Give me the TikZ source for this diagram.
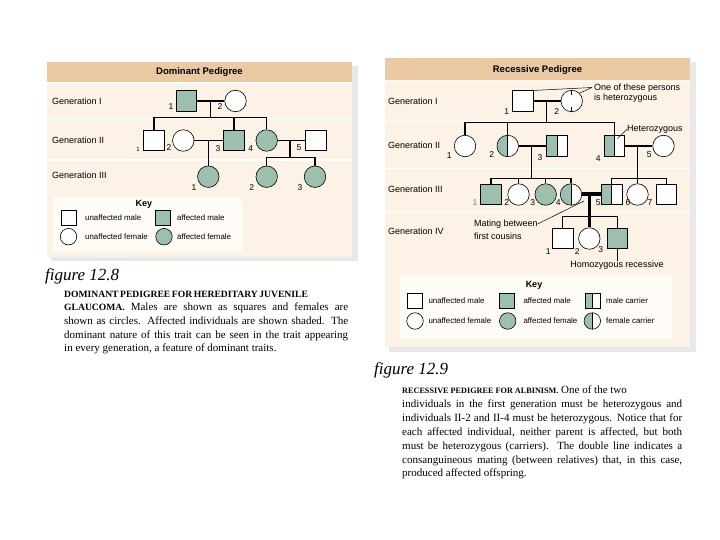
\documentclass[tikz,border=0pt]{standalone}
\usepackage{fontspec}
\setmainfont{Liberation Serif}
\setsansfont{Liberation Sans}
\definecolor{aff}{HTML}{9DBFB0}
\definecolor{panelbg}{HTML}{FCF2E5}
\definecolor{hdr}{HTML}{EBC9A2}
\definecolor{keybg}{HTML}{FFFBF6}
\definecolor{shadowc}{HTML}{E8E8E8}
\newcommand{\capline}[2]{\makebox[#1pt][s]{#2}}
\newcommand{\capsA}[1]{{\fontsize{9.6}{12}\selectfont\bfseries #1}}
\newcommand{\capsB}[1]{{\fontsize{8.2}{12}\selectfont\bfseries #1}}
\tikzset{
  person/.style={draw=black,line width=0.6pt,inner sep=0pt,fill=white},
  male/.style={person,rectangle,minimum size=20.5pt},
  female/.style={person,circle,minimum size=21.5pt},
  affd/.style={fill=aff},
  carrier/.style={path picture={\fill[aff] (path picture bounding box.south west) rectangle (path picture bounding box.north);
      \draw[line width=0.6pt] (path picture bounding box.north) -- (path picture bounding box.south);}},
  kmale/.style={person,rectangle,minimum size=15pt},
  kfemale/.style={person,circle,minimum size=16.5pt},
  lnk/.style={line width=1.3pt},
  cousinline/.style={line width=4pt},
  cousindesc/.style={line width=3pt},
  ptr/.style={line width=0.5pt},
  num/.style={font=\sffamily\fontsize{8.5}{9}\selectfont,inner sep=0pt},
  gen/.style={font=\sffamily\fontsize{9}{10}\selectfont,anchor=west,inner sep=0pt},
  ann/.style={font=\sffamily\fontsize{9}{10}\selectfont,anchor=west,inner sep=0pt},
  keytxt/.style={font=\sffamily\fontsize{7.9}{9}\selectfont,anchor=west,inner sep=0pt},
  hdrtxt/.style={font=\sffamily\bfseries\fontsize{9.5}{11}\selectfont,inner sep=0pt},
  keyttl/.style={font=\sffamily\bfseries\fontsize{9}{10}\selectfont,inner sep=0pt},
  capbody/.style={font=\fontsize{11}{12}\selectfont,anchor=base west,inner sep=0pt},
  figttl/.style={font=\itshape\fontsize{17}{20}\selectfont,anchor=base west,inner sep=0pt},
  sepline/.style={draw=white,line width=1.4pt},
}
\begin{document}
\begin{tikzpicture}[x=1pt,y=-1pt]
\useasboundingbox (0,0) rectangle (720,540);
\fill[white] (0,0) rectangle (720,540);

% ================= LEFT PANEL =================
\fill[shadowc] (51,66) rectangle (358,261);
\fill[panelbg] (47,62) rectangle (352,257);
\fill[hdr] (47,62) rectangle (352,82);
\draw[sepline] (47,83) -- (352,83);
\draw[sepline] (47,118.3) -- (352,118.3);
\draw[sepline] (47,160) -- (352,160);
\node[hdrtxt] (Lhdr) at (199.5,72) {Dominant Pedigree};

\node[gen] (LgI) at (52,101) {Generation I};
\node[gen] (LgII) at (52,140.5) {Generation II};
\node[gen] (LgIII) at (52,175.5) {Generation III};

% Gen I
\node[male,affd] (L11) at (186.5,101) {};
\node[female] (L12) at (235.5,101) {};
\node[num] (L11n) at (171,107) {1};
\node[num] (L12n) at (220,107) {2};
\draw[lnk] (L11.east) -- (L12.west);
\coordinate (Lc1) at (210.7,101);
\coordinate (Ls1) at (210.7,117.3);
\draw[lnk] (Lc1) -- (Ls1);

% Gen II
\node[male] (L21) at (154,140.5) {};
\node[female] (L22) at (183.3,140.5) {};
\node[male,affd] (L23) at (234,140.5) {};
\node[female,affd] (L24) at (266.7,140.5) {};
\node[male] (L25) at (316,140.5) {};
\node[num,font=\sffamily\fontsize{6}{7}\selectfont] (L21n) at (138,149) {1};
\node[num] (L22n) at (169,148) {2};
\node[num] (L23n) at (218,149) {3};
\node[num] (L24n) at (250.7,149) {4};
\node[num] (L25n) at (299,147.5) {5};
\draw[lnk] (L21.north) -- (L21.north |- Ls1) -- (L24.north |- Ls1) -- (L24.north);
\draw[lnk] (L23.north |- Ls1) -- (L23.north);
\draw[lnk] (L22.east) -- (L23.west);
\draw[lnk] (L24.east) -- (L25.west);

% Gen III
\node[female,affd] (L31) at (208.3,176.7) {};
\node[female,affd] (L32) at (266.7,176.7) {};
\node[female,affd] (L33) at (315,176.7) {};
\node[num] (L31n) at (194,187.7) {1};
\node[num] (L32n) at (251.7,187.7) {2};
\node[num] (L33n) at (300,187.7) {3};
\draw[lnk] (L31.north |- L22.east) -- (L31.north);
\coordinate (Lc3) at (290,140.5);
\coordinate (Ls3) at (290,157.7);
\draw[lnk] (Lc3) -- (Ls3);
\draw[lnk] (L32.north) -- (L32.north |- Ls3) -- (L33.north |- Ls3) -- (L33.north);

% Key (left)
\fill[keybg] (53,197) rectangle (242,252);
\node[keyttl] (LkT) at (144,204) {Key};
\node[kmale] (Lk1) at (69,218) {};
\node[keytxt] (Lk1t) at (85,218) {unaffected male};
\node[kmale,affd] (Lk2) at (162.5,218) {};
\node[keytxt] (Lk2t) at (177,218) {affected male};
\node[kfemale] (Lk3) at (68.5,236.7) {};
\node[keytxt] (Lk3t) at (85,236.7) {unaffected female};
\node[kfemale,affd] (Lk4) at (164,236.7) {};
\node[keytxt] (Lk4t) at (177,236.7) {affected female};

% Caption (left)
\node[figttl] (Lfig) at (45,280) {figure 12.8};
\node[capbody] (Lb1) at (64,297) {\capline{243}{\capsA{DOMINANT PEDIGREE FOR HEREDITARY JUVENILE}}};
\node[capbody] (Lb2) at (64,310.7) {\capline{284}{\capsA{GLAUCOMA.} Males are shown as squares and females are}};
\node[capbody] (Lb3) at (64,324.4) {\capline{284}{shown as circles. Affected individuals are shown shaded. The}};
\node[capbody] (Lb4) at (64,338.1) {\capline{284}{dominant nature of this trait can be seen in the trait appearing}};
\node[capbody] (Lb5) at (64,351.8) {in every generation, a feature of dominant traits.};

% ================= RIGHT PANEL =================
\fill[shadowc] (389,62) rectangle (696,352);
\fill[panelbg] (385,58) rectangle (690,347);
\fill[hdr] (385,58) rectangle (690,80);
\draw[sepline] (385,81.5) -- (690,81.5);
\draw[sepline] (385,121.7) -- (690,121.7);
\draw[sepline] (385,168.3) -- (690,168.3);
\draw[sepline] (385,211.7) -- (690,211.7);
\node[hdrtxt] (Rhdr) at (537.5,70) {Recessive Pedigree};

\node[gen] (RgI) at (388,101.7) {Generation I};
\node[gen] (RgII) at (388,145.7) {Generation II};
\node[gen] (RgIII) at (388,189) {Generation III};
\node[gen] (RgIV) at (388,231.7) {Generation IV};

% Gen I
\node[male] (R11) at (523,101) {};
\node[female] (R12) at (571.7,101) {};
\draw[line width=0.6pt] (R12.north) -- ++(0,5.5);
\draw[line width=0.6pt] (R12.south) -- ++(0,-5.5);
\node[num] (R11n) at (506.7,111.5) {1};
\node[num] (R12n) at (556.7,111.5) {2};
\draw[lnk] (R11.east) -- (R12.west);
\coordinate (Rc1) at (546.7,101);
\coordinate (Rs1) at (546.7,122.7);
\draw[lnk] (Rc1) -- (Rs1);
\node[ann] (Ra1) at (594,88.3) {One of these persons};
\node[ann] (Ra2) at (594,97.7) {is heterozygous};
\coordinate (Rap) at (592,87.5);
\draw[ptr] (Rap) -- (R11.north east);
\draw[ptr] (Rap) -- (R12.north east);

% Gen II
\node[female] (R21) at (465,146) {};
\node[female,carrier] (R22) at (507.7,146) {};
\node[male,carrier] (R23) at (557,146) {};
\node[male,carrier] (R24) at (614.5,146) {};
\node[female] (R25) at (663.5,146) {};
\node[num] (R21n) at (449.3,155.7) {1};
\node[num] (R22n) at (491.7,155) {2};
\node[num] (R23n) at (540,157.5) {3};
\node[num] (R24n) at (598.3,158.5) {4};
\node[num] (R25n) at (649.3,155) {5};
\draw[lnk] (R21.north) -- (R21.north |- Rs1) -- (R24.north |- Rs1) -- (R24.north);
\draw[lnk] (R22.north |- Rs1) -- (R22.north);
\draw[lnk] (R22.east) -- (R23.west);
\draw[lnk] (R24.east) -- (R25.west);
\node[ann] (Rhet) at (627,129.3) {Heterozygous};
\coordinate (Rhp) at (617.5,138.5);
\draw[ptr] (Rhet.west) -- (Rhp);

% Gen III
\node[male,affd] (R31) at (491,194.5) {};
\node[female] (R32) at (518.5,194.5) {};
\node[female,affd] (R33) at (545.7,194.5) {};
\node[female,carrier] (R34) at (571,194.5) {};
\node[male,carrier] (R35) at (611.7,194.5) {};
\node[female] (R36) at (637.5,194.5) {};
\node[male] (R37) at (666.3,194.5) {};
\node[num,text=gray] (R31n) at (475,203) {1};
\node[num] (R32n) at (506.7,202.5) {2};
\node[num] (R33n) at (532.7,202.5) {3};
\node[num] (R34n) at (558.3,202.5) {4};
\node[num] (R35n) at (598.3,203) {5};
\node[num] (R36n) at (628,202.5) {6};
\node[num] (R37n) at (650,202.5) {7};
\coordinate (Rc2) at (531.7,146);
\coordinate (Rs2) at (531.7,178.3);
\draw[lnk] (Rc2) -- (Rs2);
\draw[lnk] (R31.north) -- (R31.north |- Rs2) -- (R34.north |- Rs2) -- (R34.north);
\draw[lnk] (R32.north |- Rs2) -- (R32.north);
\draw[lnk] (R33.north |- Rs2) -- (R33.north);
\coordinate (Rc3) at (637.5,146);
\coordinate (Rs3) at (637.5,178.3);
\draw[lnk] (Rc3) -- (R36.north);
\draw[lnk] (R35.north) -- (R35.north |- Rs3) -- (R37.north |- Rs3) -- (R37.north);
\draw[cousinline] (R34.east) -- (R35.west);

% Gen IV
\node[male] (R41) at (562.7,238.5) {};
\node[female] (R42) at (589.3,238.5) {};
\node[male,affd] (R43) at (617.5,238.5) {};
\node[num] (R41n) at (548.3,251.5) {1};
\node[num] (R42n) at (577.3,251.5) {2};
\node[num] (R43n) at (600.7,250) {3};
\coordinate (Rc5) at (589.3,194.5);
\coordinate (Rs5) at (589.3,216.7);
\draw[cousindesc] (Rc5) -- (R42.north);
\draw[lnk] (R41.north) -- (R41.north |- Rs5) -- (R43.north |- Rs5) -- (R43.north);
\node[ann] (Rm1) at (474,223.8) {Mating between};
\node[ann] (Rm2) at (474,236) {first cousins};
\coordinate (Rmp) at (584,201);
\draw[ptr] (Rm1.east) -- (Rmp);
\node[ann,anchor=center] (Rhr) at (617,265) {Homozygous recessive};
\draw[ptr] (R43.south) -- (R43.south |- Rhr.north);

% Key (right)
\fill[keybg] (400,275) rectangle (672,339);
\node[keyttl] (RkT) at (534,285.7) {Key};
\node[kmale] (Rk1) at (415,301) {};
\node[keytxt] (Rk1t) at (428.3,301) {unaffected male};
\node[kmale,affd] (Rk2) at (507,301) {};
\node[keytxt] (Rk2t) at (523.3,301) {affected male};
\node[kmale,carrier] (Rk3) at (592.5,301) {};
\node[keytxt] (Rk3t) at (606,301) {male carrier};
\node[kfemale] (Rk4) at (415,321) {};
\node[keytxt] (Rk4t) at (428.3,321) {unaffected female};
\node[kfemale,affd] (Rk5) at (507.7,321) {};
\node[keytxt] (Rk5t) at (523.3,321) {affected female};
\node[kfemale,carrier] (Rk6) at (592.3,321) {};
\node[keytxt] (Rk6t) at (606,321) {female carrier};

% Caption (right)
\node[figttl] (Rfig) at (374,374) {figure 12.9};
\node[capbody] (Rb1) at (402,393.5) {\capsB{RECESSIVE PEDIGREE FOR ALBINISM.} One of the two};
\node[capbody] (Rb2) at (402,407.4) {\capline{280}{individuals in the first generation must be heterozygous and}};
\node[capbody] (Rb3) at (402,421.3) {\capline{280}{individuals II-2 and II-4 must be heterozygous. Notice that for}};
\node[capbody] (Rb4) at (402,435.2) {\capline{280}{each affected individual, neither parent is affected, but both}};
\node[capbody] (Rb5) at (402,449.1) {\capline{280}{must be heterozygous (carriers). The double line indicates a}};
\node[capbody] (Rb6) at (402,463) {\capline{280}{consanguineous mating (between relatives) that, in this case,}};
\node[capbody] (Rb7) at (402,476.9) {produced affected offspring.};
\end{tikzpicture}
\end{document}
